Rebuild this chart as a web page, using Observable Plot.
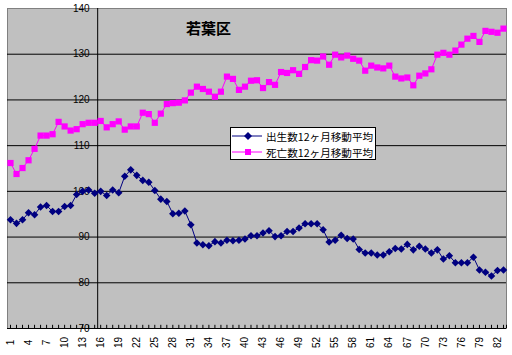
<!DOCTYPE html>
<html>
<head>
<meta charset="utf-8">
<script src="https://cdn.jsdelivr.net/npm/d3@7"></script>
<script src="https://cdn.jsdelivr.net/npm/@observablehq/plot@0.6"></script>
<style>
  html, body { margin: 0; padding: 0; background: #fff; }
  #wrap { position: relative; width: 512px; height: 355px; overflow: hidden; }
  #title { position: absolute; left: 186px; top: 17px; font: bold 15px "Noto Sans CJK JP", sans-serif; color: #000; }
  #legend { position: absolute; left: 230px; top: 127px; width: 144px; height: 31px; border: 1px solid #000; background: #fff;
            font: 10.6px "Noto Sans CJK JP", sans-serif; color: #000; }
  .row { position: absolute; left: 0; height: 16px; display: flex; align-items: center; }
  .row svg { margin-left: 1px; }
  .row span { margin-left: 4px; white-space: nowrap; }
</style>
</head>
<body>
<div id="wrap">
  <div id="chart"></div>
  <div id="title"></div>
  <div id="legend"></div>
</div>
<script>
const titleText = "若葉区";
const seriesNames = ["出生数12ヶ月移動平均", "死亡数12ヶ月移動平均"];
const seriesColors = ["#000080", "#FF00FF"];
const categories = d3.range(1, 84);
const tickLabels = [1,4,7,10,13,16,19,22,25,28,31,34,37,40,43,46,49,52,55,58,61,64,67,70,73,76,79,82];
const yTicks = [70,80,90,100,110,120,130,140];
const births = [93.8,93.0,93.8,95.3,94.9,96.6,96.9,95.6,95.6,96.7,96.9,99.3,100.0,100.3,99.6,100.0,99.1,100.3,99.7,103.3,
  104.7,103.5,102.4,102.0,100.2,98.3,97.8,95.1,95.2,95.7,92.7,88.7,88.3,88.1,89.0,88.7,89.3,89.2,89.3,89.6,
  90.3,90.3,90.9,91.4,90.1,90.3,91.2,91.2,92.0,92.9,92.9,92.9,91.6,88.9,89.3,90.4,89.7,89.6,87.3,86.5,
  86.5,86.1,86.1,86.8,87.5,87.4,88.4,87.2,88.0,87.4,86.5,87.2,85.2,85.9,84.4,84.4,84.4,85.6,82.8,82.3,
  81.5,82.7,82.8];
const deaths = [106.2,103.8,105.1,106.8,109.3,112.2,112.2,112.5,115.2,114.2,113.3,113.6,114.7,115.0,115.0,115.4,114.0,114.7,115.3,113.5,
  114.2,114.2,117.2,116.9,115.0,117.0,119.1,119.3,119.4,119.9,121.6,122.9,122.4,121.8,120.7,121.8,125.1,124.6,122.2,122.9,
  124.2,124.3,122.6,123.9,123.3,126.1,125.9,126.5,125.7,127.2,128.7,128.6,129.5,127.7,129.9,129.3,129.7,129.0,128.6,126.4,
  127.5,127.1,126.9,127.5,125.1,124.7,124.9,123.2,125.3,125.8,126.7,129.9,130.3,129.9,130.8,132.1,133.4,134.0,132.7,135.1,
  134.9,134.7,135.6];
const yAxisCross = 15.5;

const bData = categories.map((c, i) => ({c, v: births[i]}));
const dData = categories.map((c, i) => ({c, v: deaths[i]}));

const chart = Plot.plot({
  width: 512, height: 355,
  marginLeft: 7, marginRight: 6, marginTop: 8, marginBottom: 27,
  style: {fontFamily: "'Liberation Sans', Arial, sans-serif", fontSize: "10px", background: "#fff"},
  x: {type: "linear", domain: [0.5, 83.5], axis: null},
  y: {domain: [70, 140], axis: null},
  marks: [
    Plot.frame({fill: "#C0C0C0", stroke: "#808080"}),
    Plot.ruleY(yTicks.filter(t => t < 140), {stroke: "#000", strokeWidth: 1}),
    Plot.ruleX([yAxisCross], {stroke: "#000", strokeWidth: 1}),
    Plot.ruleX(categories, {x: d => d, y1: 70, y2: 70.7, stroke: "#000"}),
    Plot.ruleX([categories[categories.length - 1] + 0.5], {y1: 70, y2: 70.7, stroke: "#000"}),
    Plot.text(yTicks, {x: yAxisCross, y: d => d, text: d => String(d), textAnchor: "end", dx: -8, fill: "#000", fontSize: 10}),
    Plot.text(tickLabels, {x: d => d, y: 70, text: d => String(d), rotate: -90, dy: 14, textAnchor: "middle", fill: "#000", fontSize: 10}),
    Plot.line(bData, {x: "c", y: "v", stroke: seriesColors[0], strokeWidth: 1}),
    Plot.dot(bData, {x: "c", y: "v", symbol: "diamond2", r: 3.4, fill: seriesColors[0], stroke: "none"}),
    Plot.line(dData, {x: "c", y: "v", stroke: seriesColors[1], strokeWidth: 1}),
    Plot.dot(dData, {x: "c", y: "v", symbol: "square", r: 3.5, fill: seriesColors[1], stroke: "none"})
  ]
});
document.getElementById("chart").appendChild(chart);
document.getElementById("title").textContent = titleText;

const legend = document.getElementById("legend");
const markers = [
  '<polygon points="16,4 20,8 16,12 12,8" fill="' + seriesColors[0] + '"/>',
  '<rect x="13" y="5" width="6" height="6" fill="' + seriesColors[1] + '"/>'
];
seriesNames.forEach((name, i) => {
  const row = document.createElement("div");
  row.className = "row";
  row.style.top = (i * 16) + "px";
  row.innerHTML = '<svg width="30" height="16"><line x1="0" x2="30" y1="8" y2="8" stroke="' + seriesColors[i] + '" stroke-width="1"/>' +
    markers[i] + '</svg><span>' + name + '</span>';
  legend.appendChild(row);
});
</script>
</body>
</html>
